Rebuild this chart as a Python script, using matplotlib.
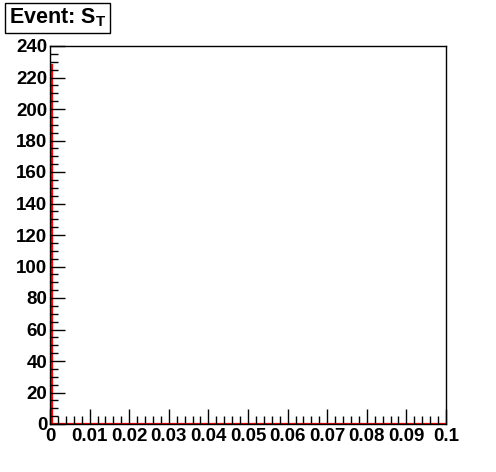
import numpy as np
import matplotlib
matplotlib.use("Agg")
import matplotlib.pyplot as plt
from matplotlib.ticker import MultipleLocator

# data
bin_edges = np.linspace(0, 0.1, 201)
counts = np.zeros(200)
counts[0] = 228
x_ticks = [0, 0.01, 0.02, 0.03, 0.04, 0.05, 0.06, 0.07, 0.08, 0.09, 0.1]
x_ticklabels = ["0", "0.01", "0.02", "0.03", "0.04", "0.05", "0.06", "0.07", "0.08", "0.09", "0.1"]
y_ticks = list(range(0, 241, 20))

plt.rcParams['font.family'] = ['Liberation Sans', 'DejaVu Sans']
plt.rcParams['font.weight'] = 'bold'
plt.rcParams['mathtext.fontset'] = 'custom'
plt.rcParams['mathtext.bf'] = 'Liberation Sans:bold'
plt.rcParams['mathtext.rm'] = 'Liberation Sans:bold'

fig = plt.figure(figsize=(4.96, 4.72), dpi=100)
ax = fig.add_axes([50/496, 48/472, 396/496, 378/472])

ax.stairs(counts, bin_edges, color='red', linewidth=1.6, baseline=0, zorder=1)
ax.set_xlim(0, 0.1)
ax.set_ylim(0, 240)

ax.set_xticks(x_ticks)
ax.set_xticklabels(x_ticklabels, fontsize=13.5, fontweight='bold')
ax.set_yticks(y_ticks)
ax.set_yticklabels([str(v) for v in y_ticks], fontsize=13.5, fontweight='bold')
ax.xaxis.set_minor_locator(MultipleLocator(0.002))
ax.yaxis.set_minor_locator(MultipleLocator(5))
ax.tick_params(which='major', direction='in', length=11, width=1, color='black', pad=2)
ax.tick_params(which='minor', direction='in', length=5.5, width=1, color='black')
ax.tick_params(axis='x', which='major', length=11, pad=3)
for s in ax.spines.values():
    s.set_linewidth(1)
    s.set_color('black')
    s.set_zorder(3)

fig.text(9/496, 1 - 18/472, r"Event: S$_{\mathbf{T}}$", fontsize=15.5, fontweight='bold',
         va='center', ha='left',
         bbox=dict(boxstyle='square,pad=0.18', facecolor='white', edgecolor='black', linewidth=1))

fig.savefig("out.png", dpi=100)
